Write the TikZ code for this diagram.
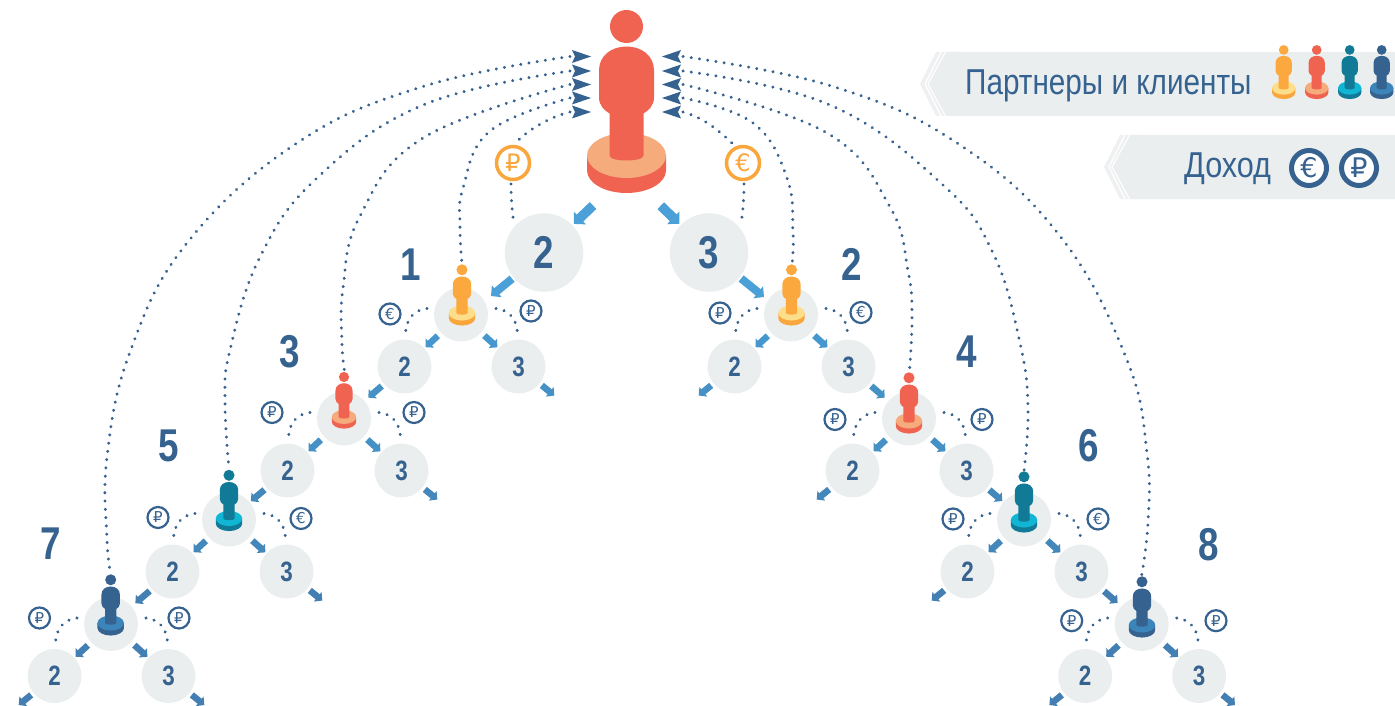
\documentclass[tikz,border=0pt]{standalone}
\usepackage{fontspec}
\setmainfont{Liberation Sans}
\newfontfamily\lblfont[FakeStretch=0.8]{Liberation Sans}
\newfontfamily\legfont[FakeStretch=0.825]{Liberation Sans}
\newfontfamily\legfontb[FakeStretch=0.85]{Liberation Sans}
\newfontfamily\coinfont{DejaVu Sans}
\usetikzlibrary{arrows.meta,calc}
\definecolor{ink}{HTML}{36628F}
\definecolor{discgray}{HTML}{EBEEEF}
\definecolor{bandgray}{HTML}{EEF0F1}
\definecolor{oraB}{HTML}{FBA93F}\definecolor{oraT}{HTML}{FDDF8B}
\definecolor{redB}{HTML}{F06351}\definecolor{redT}{HTML}{F5AB7C}
\definecolor{teaB}{HTML}{117A96}\definecolor{teaT}{HTML}{10B6D4}
\definecolor{bluB}{HTML}{36628F}\definecolor{bluT}{HTML}{3C85BB}
\definecolor{rowA}{HTML}{4BA0D8}\definecolor{rowB}{HTML}{4697CE}
\definecolor{rowC}{HTML}{4590C5}\definecolor{rowD}{HTML}{4488BB}\definecolor{rowE}{HTML}{437FB2}
\definecolor{coinO}{HTML}{F9A63C}
\tikzset{
 x=1pt,y=-1pt,
 disc/.style={circle,fill=discgray,minimum size=54pt,inner sep=0pt,outer sep=0pt,text=ink,
   font=\lblfont\bfseries\fontsize{28}{28}\selectfont},
 bigdisc/.style={disc,minimum size=78.6pt,font=\lblfont\bfseries\fontsize{46}{46}\selectfont},
 tag/.style={text=ink,inner sep=0pt,font=\lblfont\bfseries\fontsize{46}{46}\selectfont},
 coin/.style={circle,draw=ink,fill=white,line width=2.2pt,minimum size=21pt,inner sep=0pt,text=ink,
   font=\coinfont\fontsize{15}{15}\selectfont},
 bigcoin/.style={coin,draw=coinO,text=coinO,line width=3.5pt,minimum size=33pt,font=\coinfont\fontsize{24}{24}\selectfont},
 legcoin/.style={coin,line width=5pt,minimum size=35pt,font=\coinfont\fontsize{27}{27}\selectfont},
 legtext/.style={text=ink,inner sep=0pt,anchor=base west,font=\legfont\fontsize{36}{36}\selectfont},
 dots/.style={draw=ink,line width=3.2pt,line cap=round,dash pattern=on 0.1pt off 8.2pt},
 arrS/.style={draw=#1,line width=6.5pt,-{Triangle[width=12pt,length=6pt]},shorten >=1.5pt,shorten <=3pt},
 arrM/.style={draw=#1,line width=8pt,-{Triangle[width=15pt,length=7.5pt]},shorten <=2pt},
 arrL/.style={draw=#1,line width=9.5pt,-{Triangle[width=17pt,length=8.5pt]},shorten >=2pt,shorten <=47pt},
}
% person figure: base-top centre at (#1,#2), scale #3
\newcommand\personfig[6]{%
 \begin{scope}[shift={(#1,#2)},scale=#3]
  \fill[#4] (0,-129) circle[radius=16.5];
  \fill[#6] (-39.5,0) -- (-39.5,15) .. controls (-39.5,27.4) and (-21.8,37.5) .. (0,37.5)
     .. controls (21.8,37.5) and (39.5,27.4) .. (39.5,15) -- (39.5,0) -- cycle;
  \fill[#5] (0,0) ellipse[x radius=39.5,y radius=22.5];
  \fill[#4] (-27.5,-85) .. controls (-27.5,-100) and (-15,-109) .. (0,-109)
     .. controls (15,-109) and (27.5,-100) .. (27.5,-85) -- (27.5,-58)
     .. controls (27.5,-50) and (22,-45) .. (17,-42) -- (17,0)
     .. controls (17,3.5) and (8,5) .. (0,5) .. controls (-8,5) and (-17,3.5) .. (-17,0)
     -- (-17,-42) .. controls (-22,-45) and (-27.5,-50) .. (-27.5,-58) -- cycle;
 \end{scope}}
% group: person disc p, child discs a (2) and b (3)
\newcommand\trio[3]{%
 \node[disc] (p#1) at (#2,#3) {};
 \node[disc] (a#1) at ($(p#1)+(-56.5,52)$) {2};
 \node[disc] (b#1) at ($(p#1)+(57.5,52)$) {3};
 \coordinate (oa#1) at ($(a#1)+(-37,30)$);
 \coordinate (ob#1) at ($(b#1)+(37,30)$);
}
\newcommand\arcs[1]{%
 \draw[dots] ($(p#1)+(-34,-6)$) .. controls +(-14,1.5) and +(0,-14) .. ($(a#1)+(1,-32)$);
 \draw[dots] ($(p#1)+(35,-6)$) .. controls +(14,1.5) and +(0,-14) .. ($(b#1)+(-1,-32)$);
}
\newcommand\splitarr[2]{%
 \draw[arrS=#2,shorten <=4.5pt] (p#1) -- (a#1);
 \draw[arrS=#2,shorten <=4.5pt] (p#1) -- (b#1);
}
\newcommand\barbL[1]{\fill[ink] ($(#1)+(2,-6.5)$) -- ($(#1)+(21,0)$) -- ($(#1)+(2,6.5)$) -- ($(#1)+(5,0)$) -- cycle;}
\newcommand\barbR[1]{\fill[ink] ($(#1)+(-2,-6.5)$) -- ($(#1)+(-21,0)$) -- ($(#1)+(-2,6.5)$) -- ($(#1)+(-5,0)$) -- cycle;}
\newcommand\banner[2]{%
 \begin{scope}[shift={(#1,#2)}]
  \fill[bandgray] (936,52) -- (920,84) -- (936,116) -- (960,116) -- (960,52) -- cycle;
  \fill[discgray] (947,52) -- (929,84) -- (947,116) -- (1395,116) -- (1395,52) -- cycle;
  \draw[white,line width=1.2pt] (941,52) -- (925,84) -- (941,116);
  \draw[white,line width=1pt] (945.5,52) -- (928,84) -- (945.5,116);
 \end{scope}}
\begin{document}
\begin{tikzpicture}
\useasboundingbox (0,0) rectangle (1395,706);
\clip (0,0) rectangle (1395,706);
% legend
\banner{0}{0}
\banner{184}{83}
\node[legtext] (legA) at (965,95) {Партнеры и клиенты};
\node[legtext,font=\legfontb\fontsize{36}{36}\selectfont] (legB) at (1184,177.5) {Доход};
\personfig{1283.7}{88}{0.295}{oraB}{oraT}{coinO}
\personfig{1316.7}{88}{0.295}{redB}{redT}{redB}
\personfig{1349.7}{88}{0.295}{teaB}{teaT}{teaB}
\personfig{1381.7}{88}{0.295}{bluB}{bluT}{bluB}
\node[legcoin] (legE) at (1309,168) {€};
\node[legcoin] (legR) at (1359,168) {₽};
% discs
\node[bigdisc] (n2) at (544,252.5) {2};
\node[bigdisc] (n3) at (709,252.5) {3};
\trio{1}{461}{314.5}
\trio{2}{791}{314.5}
\trio{3}{344}{418.5}
\trio{4}{909}{418.5}
\trio{5}{229}{519.5}
\trio{6}{1024}{519.5}
\trio{7}{111}{624}
\trio{8}{1141.7}{624}
% end points
\coordinate (topO) at (627,173);
\coordinate (in1) at (491,296);
\coordinate (in2) at (764,297);
\coordinate (tl1) at (570,56.5); \coordinate (tl2) at (570,71); \coordinate (tl3) at (570,84.5);
\coordinate (tl4) at (570,98); \coordinate (tl5) at (570,112);
\coordinate (tr1) at (683,56.5); \coordinate (tr2) at (683,71); \coordinate (tr3) at (683,84.5);
\coordinate (tr4) at (683,98); \coordinate (tr5) at (683,112);
\coordinate (h1) at (462,264); \coordinate (h2) at (792,264);
\coordinate (h3) at (344.5,371); \coordinate (h4) at (909.5,371);
\coordinate (h5) at (229,469); \coordinate (h6) at (1024,471);
\coordinate (h7) at (110.5,572); \coordinate (h8) at (1141.7,575);
\coordinate (cra) at (516,143); \coordinate (cea) at (735,146);
% long dotted curves
\draw[dots] plot[smooth,tension=0.7] coordinates {(tl1) (423,86.5) (297,143) (187,243) (130,352) (107,457) (107,539) (h7)};
\draw[dots] plot[smooth,tension=0.7] coordinates {(tl2) (423,105) (317,178) (260,257) (230,350) (225,402) (h5)};
\draw[dots] plot[smooth,tension=0.7] coordinates {(tl3) (423,138) (360,216) (343,288) (342,343) (h3)};
\draw[dots] plot[smooth,tension=0.7] coordinates {(tl4) (490,131) (463,188) (460,226) (h1)};
\draw[dots] (tl5) .. controls (545,118) and (522,135) .. (cra);
\draw[dots] plot[smooth,tension=0.7] coordinates {(tr1) (833,86.5) (957,143) (1060,236) (1127,360) (1147,453) (1148,522) (h8)};
\draw[dots] plot[smooth,tension=0.7] coordinates {(tr2) (830,105) (943,185) (993,253) (1020,343) (1028,408) (h6)};
\draw[dots] plot[smooth,tension=0.7] coordinates {(tr3) (827,133) (890,207) (908,271) (912,315) (h4)};
\draw[dots] plot[smooth,tension=0.7] coordinates {(tr4) (753,123) (787,178) (793,233) (h2)};
\draw[dots] (tr5) .. controls (705,118) and (722,133) .. (cea);
% coins
\node[bigcoin] (cr) at (513,163) {₽};
\node[bigcoin] (ce) at (743,163) {€};
\coordinate (crb) at ($(n2)+(-30,-28)$);
\coordinate (ceb) at ($(n3)+(32,-28)$);
\draw[dots] ($(cr)+(-2,21)$) .. controls +(0,14) and +(-2,-14) .. (crb);
\draw[dots] ($(ce)+(1,21)$) .. controls +(0,14) and +(2,-14) .. (ceb);
\arcs{1}\arcs{2}\arcs{3}\arcs{4}\arcs{5}\arcs{6}\arcs{7}\arcs{8}
% small coins
\node[coin] (c1a) at (390,314) {€};
\node[coin] (c1b) at (531,311) {₽};
\node[coin] (c2a) at (720,313) {₽};
\node[coin] (c2b) at (861,312.5) {€};
\node[coin] (c3a) at (272,412.5) {₽};
\node[coin] (c3b) at (414,412.5) {₽};
\node[coin] (c4a) at (835,419.5) {₽};
\node[coin] (c4b) at (982,419.5) {₽};
\node[coin] (c5a) at (158,517.5) {₽};
\node[coin] (c5b) at (301,518.5) {€};
\node[coin] (c6a) at (953,519) {₽};
\node[coin] (c6b) at (1098,519) {€};
\node[coin] (c7a) at (39.5,618) {₽};
\node[coin] (c7b) at (179,618) {₽};
\node[coin] (c8a) at (1071.7,620.7) {₽};
\node[coin] (c8b) at (1216,620.7) {₽};
% arrow barbs
\barbL{tl1}\barbL{tl2}\barbL{tl3}\barbL{tl4}\barbL{tl5}
\barbR{tr1}\barbR{tr2}\barbR{tr3}\barbR{tr4}\barbR{tr5}
% people
\personfig{626.5}{155.5}{1}{redB}{redT}{redB}
\personfig{462}{313}{0.335}{oraB}{oraT}{coinO}
\personfig{791.5}{313}{0.335}{oraB}{oraT}{coinO}
\personfig{344}{417}{0.31}{redB}{redT}{redB}
\personfig{909}{421}{0.335}{redB}{redT}{redB}
\personfig{229}{518.5}{0.335}{teaB}{teaT}{teaB}
\personfig{1024}{520}{0.335}{teaB}{teaT}{teaB}
\personfig{110.7}{623}{0.335}{bluB}{bluT}{bluB}
\personfig{1142}{625}{0.335}{bluB}{bluT}{bluB}
% blue arrows
\draw[arrL=rowA] (topO) -- (n2);
\draw[arrL=rowA] (topO) -- (n3);
\draw[arrM=rowA] (n2) -- (in1);
\draw[arrM=rowA] (n3) -- (in2);
\splitarr{1}{rowB}\splitarr{2}{rowB}
\splitarr{3}{rowC}\splitarr{4}{rowC}
\splitarr{5}{rowD}\splitarr{6}{rowD}
\splitarr{7}{rowE}\splitarr{8}{rowE}
\draw[arrS=rowC,shorten >=5pt] (a1) -- (p3);
\draw[arrS=rowC] (b1) -- (ob1);
\draw[arrS=rowC] (a2) -- (oa2);
\draw[arrS=rowC,shorten >=5pt] (b2) -- (p4);
\draw[arrS=rowD] (a3) -- (p5);
\draw[arrS=rowD] (b3) -- (ob3);
\draw[arrS=rowD] (a4) -- (oa4);
\draw[arrS=rowD] (b4) -- (p6);
\draw[arrS=rowE,shorten >=5pt] (a5) -- (p7);
\draw[arrS=rowE] (b5) -- (ob5);
\draw[arrS=rowE] (a6) -- (oa6);
\draw[arrS=rowE,shorten >=5pt] (b6) -- (p8);
\draw[arrS=rowE] (a7) -- (oa7);
\draw[arrS=rowE] (b7) -- (ob7);
\draw[arrS=rowE] (a8) -- (oa8);
\draw[arrS=rowE] (b8) -- (ob8);
% number tags
\node[tag] (t1) at (411,264.5) {1};
\node[tag] (t2) at (852,264.5) {2};
\node[tag] (t3) at (290,352) {3};
\node[tag] (t4) at (967,352) {4};
\node[tag] (t5) at (169,446) {5};
\node[tag] (t6) at (1089,446) {6};
\node[tag] (t7) at (51,544) {7};
\node[tag] (t8) at (1208.7,545) {8};
\end{tikzpicture}
\end{document}
